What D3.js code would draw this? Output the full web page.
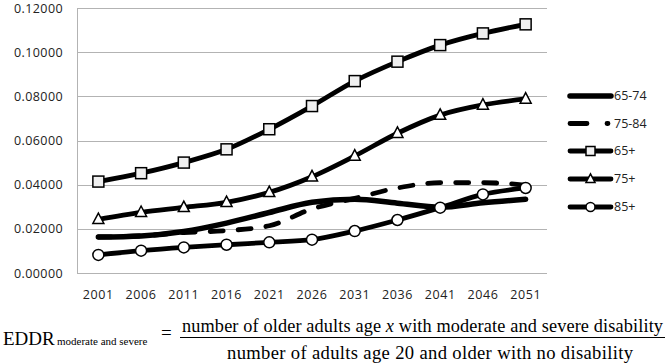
<!DOCTYPE html>
<html><head><meta charset="utf-8">
<script src="https://cdn.jsdelivr.net/npm/d3@7"></script>
<style>body{margin:0;background:#fff}svg{display:block}</style>
</head><body>
<svg id="c" width="667" height="364"></svg>
<script>
const years = ["2001","2006","2011","2016","2021","2026","2031","2036","2041","2046","2051"];
const s6574 = [0.0163,0.0168,0.0188,0.0226,0.0274,0.0320,0.0334,0.0316,0.0298,0.0318,0.0334];
const s7584 = [0.0163,0.0168,0.0183,0.0192,0.0214,0.0290,0.0338,0.0385,0.0409,0.0409,0.0398];
const s65p  = [0.0414,0.0452,0.0500,0.0560,0.0651,0.0756,0.0869,0.0957,0.1032,0.1085,0.1126];
const s75p  = [0.0243,0.0275,0.0297,0.0320,0.0365,0.0436,0.0530,0.0633,0.0715,0.0761,0.0788];
const s85p  = [0.0082,0.0101,0.0116,0.0128,0.0139,0.0151,0.0190,0.0240,0.0296,0.0356,0.0385];
const yTicks = [0,0.02,0.04,0.06,0.08,0.10,0.12];
const seriesNames = ["65-74","75-84","65+","75+","85+"];
const seriesVals = [s6574,s7584,s65p,s75p,s85p];
const seriesMarker = [null,null,"square","triangle","circle"];

const svg = d3.select("#c");
const x = d3.scaleBand().domain(years).range([77,547]);
const cx = d => x(d) + x.bandwidth()/2;
const y = d3.scaleLinear().domain([0,0.12]).range([273,8]);
const tickFont = "'Open Sans', sans-serif";

// gridlines
svg.append("g").selectAll("line").data(yTicks).join("line")
  .attr("x1",77).attr("x2",547).attr("y1",d=>Math.round(y(d))+0.5).attr("y2",d=>Math.round(y(d))+0.5)
  .attr("stroke","#b3b3b3").attr("stroke-width",1);
svg.append("line").attr("x1",77.5).attr("x2",77.5).attr("y1",y(0.12)).attr("y2",y(0)+0.5)
  .attr("stroke","#b3b3b3");

// y axis labels
const yAxis = d3.axisLeft(y).tickValues(yTicks).tickFormat(d3.format(".5f")).tickSize(0).tickPadding(14);
const ga = svg.append("g").attr("transform","translate(77,0)").call(yAxis);
ga.select(".domain").remove();
ga.selectAll("text").attr("font-family",tickFont).attr("font-size","12.5px").attr("fill","#222").attr("letter-spacing","0.4px");

// x axis labels
const xAxis = d3.axisBottom(x).tickSize(0).tickPadding(17);
const gx = svg.append("g").attr("transform","translate(0,273)").call(xAxis);
gx.select(".domain").remove();
gx.selectAll("text").attr("font-family",tickFont).attr("font-size","12.5px").attr("fill","#222").attr("letter-spacing","0.6px");

const line = d3.line().x((d,i)=>cx(years[i])).y(d=>y(d)).curve(d3.curveMonotoneX);

function drawMarker(g, type, px, py, s) {
  if (type==="square") {
    g.append("rect").attr("x",px-s/2).attr("y",py-s/2).attr("width",s).attr("height",s)
      .attr("fill","#f0f0f0").attr("stroke","#000").attr("stroke-width",1.5);
  } else if (type==="triangle") {
    const h = s*0.95;
    g.append("path").attr("d",`M${px},${py-h*0.6}L${px+s/2},${py+h*0.4}L${px-s/2},${py+h*0.4}Z`)
      .attr("fill","#fff").attr("stroke","#000").attr("stroke-width",1.5).attr("stroke-linejoin","miter");
  } else if (type==="circle") {
    g.append("circle").attr("cx",px).attr("cy",py).attr("r",s/2)
      .attr("fill","#fff").attr("stroke","#000").attr("stroke-width",1.5);
  }
}

seriesVals.forEach((vals,k)=>{
  const g = svg.append("g");
  const p = g.append("path").attr("d",line(vals)).attr("fill","none").attr("stroke","#000")
    .attr("stroke-width", k===0?5.5:4.8).attr("stroke-linecap","round").attr("stroke-linejoin","round");
  if (k===1) p.attr("stroke-dasharray","13,15");
  if (seriesMarker[k]) vals.forEach((v,i)=>drawMarker(g,seriesMarker[k],cx(years[i]),y(v),11));
});

// legend
const legY = [96,123.5,151,179,207];
seriesNames.forEach((n,k)=>{
  const g = svg.append("g");
  const ly = legY[k];
  const l = g.append("line").attr("x1",570).attr("x2",611).attr("y1",ly).attr("y2",ly)
    .attr("stroke","#000").attr("stroke-width",k===0?5.5:4.8).attr("stroke-linecap","round");
  if (k===1) l.attr("stroke-dasharray","17,20,1,10");
  if (seriesMarker[k]) drawMarker(g,seriesMarker[k],590.5,ly,9);
  g.append("text").attr("x",614).attr("y",ly).attr("dy","0.35em").text(n)
    .attr("font-family",tickFont).attr("font-size","12.5px").attr("fill","#222");
});

// formula
const serif = "'Liberation Serif','Times New Roman',serif";
const f = svg.append("g").attr("font-family",serif).attr("fill","#000");
f.append("text").attr("x",3).attr("y",345).attr("font-size","19px").text("EDDR");
f.append("text").attr("x",57).attr("y",345).attr("font-size","11px").text("moderate and severe");
f.append("text").attr("x",161).attr("y",339).attr("font-size","19px").text("=");
f.append("text").attr("x",182).attr("y",331.5).attr("font-size","18.3px")
  .attr("textLength",481).attr("lengthAdjust","spacing")
  .html("number of older adults age <tspan font-style='italic'>x</tspan> with moderate and severe disability");
f.append("line").attr("x1",180).attr("x2",665).attr("y1",337.5).attr("y2",337.5).attr("stroke","#000").attr("stroke-width",1.2);
f.append("text").attr("x",227).attr("y",358.5).attr("font-size","18.6px")
  .attr("textLength",406).attr("lengthAdjust","spacing")
  .text("number of adults age 20 and older with no disability");
</script>
</body></html>
